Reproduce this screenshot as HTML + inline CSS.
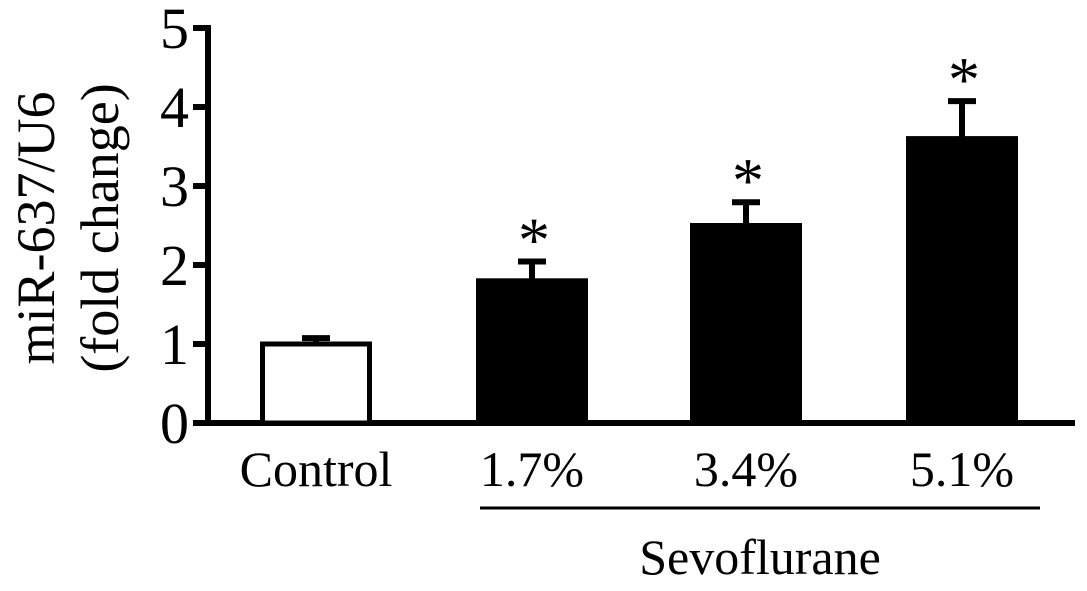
<!DOCTYPE html>
<html><head><meta charset="utf-8"><style>
html,body{margin:0;padding:0;background:#fff;}
svg text{font-family:"Liberation Serif",serif;fill:#000;}
</style></head><body>
<svg width="1087" height="586" viewBox="0 0 1087 586" id="chart">
<g id="axes"></g><g id="bars"></g>
<text transform="translate(54,228) rotate(-90)" text-anchor="middle" font-size="54">miR-637/U6</text>
<text transform="translate(118,228) rotate(-90)" text-anchor="middle" font-size="54">(fold change)</text>
<line x1="480" y1="508" x2="1040" y2="508" stroke="#000" stroke-width="3"/>
<text x="760" y="574" text-anchor="middle" font-size="50">Sevoflurane</text>
</svg>
<script>
const categories=["Control","1.7%","3.4%","5.1%"];
const values=[1.0,1.8,2.5,3.6];
const errors=[0.1,0.27,0.32,0.5];
const significant=[false,true,true,true];
const yTicks=[0,1,2,3,4,5];
const NS="http://www.w3.org/2000/svg";
const y0=423,unit=79;
function yScale(v){return y0-v*unit;}
const centers=[316,532,746,962];
function xScale(i){return centers[i];}
const barW=112;
function mk(tag,attrs,parent){const e=document.createElementNS(NS,tag);for(const k in attrs)e.setAttribute(k,attrs[k]);parent.appendChild(e);return e;}
const axes=document.getElementById('axes'),bars=document.getElementById('bars');
let a=mk('line',{x1:208,y1:yScale(5)-3,x2:208,y2:y0+3,stroke:'#000','stroke-width':6},axes);


a=mk('line',{x1:193,y1:y0,x2:1075,y2:y0,stroke:'#000','stroke-width':6},axes);


yTicks.forEach(t=>{
 const l=mk('line',{x1:193,y1:yScale(t),x2:208,y2:yScale(t),stroke:'#000','stroke-width':6},axes);
 
 
 const tx=mk('text',{x:189,y:yScale(t)+20,'text-anchor':'end','font-size':58},axes);
 tx.textContent=t;
 
 
});
categories.forEach((c,i)=>{
 const cx=xScale(i),top=yScale(values[i]),et=yScale(values[i]+errors[i]);
 const filled=i>0;
 const eb=mk('line',{x1:cx,y1:top,x2:cx,y2:et,stroke:'#000','stroke-width':6},bars);
 
 
 const cap=mk('line',{x1:cx-14,y1:et+2,x2:cx+14,y2:et+2,stroke:'#000','stroke-width':6},bars);
 
 
 const r=mk('rect',{x:cx-barW/2+2.5,y:top,width:barW-5,height:y0-top,fill:filled?'#000':'#fff',stroke:'#000','stroke-width':5},bars);
 
 
 const lb=mk('text',{x:cx,y:486,'text-anchor':'middle','font-size':50},bars);
 lb.textContent=c;
 
 
 if(significant[i]){
  const s=mk('text',{x:cx+2,y:et+2,'text-anchor':'middle','font-size':64},bars);
  s.textContent='*';
  
  
 }
});
</script>
</body></html>
